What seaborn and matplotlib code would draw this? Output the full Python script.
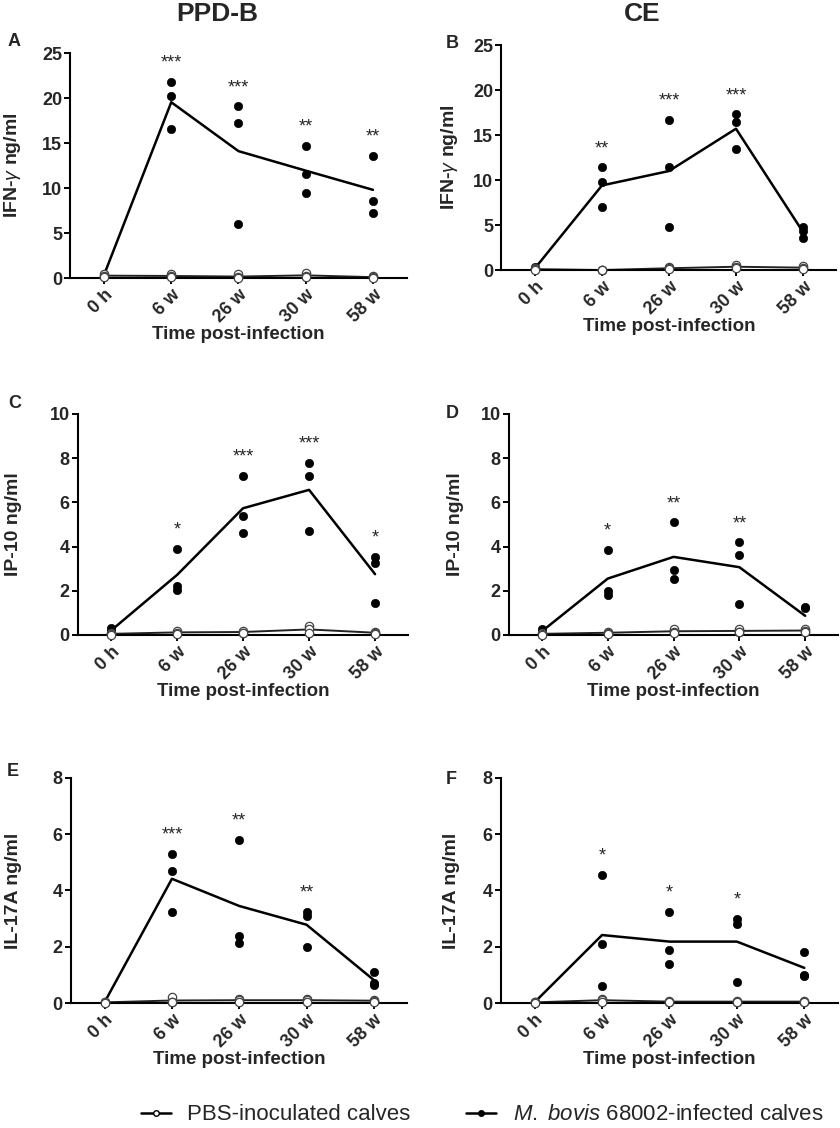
"""
cytokine responses to PPD-B and CE over time, infected vs PBS calves
"""

import numpy as np
import pandas as pd
import matplotlib
matplotlib.use('Agg')
import matplotlib.pyplot as plt
import seaborn as sns
from matplotlib.lines import Line2D

time_labels = ['0 h', '6 w', '26 w', '30 w', '58 w']

# three calves per time point, one row per time point
ifn_ppd_inf = [[0.5, 0.3, 0.2], [21.8, 20.2, 16.6], [19.1, 17.2, 6.0], [14.7, 11.6, 9.5], [13.6, 8.6, 7.2]]
ifn_ppd_pbs = [[0.5, 0.2, 0.1], [0.4, 0.2, 0.1], [0.4, 0.1, 0.0], [0.6, 0.2, 0.1], [0.2, 0.1, 0.0]]
ifn_ce_inf = [[0.3, 0.2, 0.1], [11.4, 9.8, 7.0], [16.7, 11.5, 4.8], [17.3, 16.4, 13.4], [4.8, 4.3, 3.6]]
ifn_ce_pbs = [[0.2, 0.1, 0.0], [0.0, 0.0, 0.0], [0.3, 0.2, 0.1], [0.6, 0.3, 0.2], [0.5, 0.2, 0.1]]

ip10_ppd_inf = [[0.3, 0.2, 0.1], [3.9, 2.2, 2.05], [7.2, 5.4, 4.6], [7.8, 7.2, 4.7], [3.55, 3.25, 1.45]]
ip10_ppd_pbs = [[0.1, 0.05, 0.0], [0.2, 0.1, 0.05], [0.2, 0.1, 0.1], [0.4, 0.25, 0.1], [0.15, 0.1, 0.05]]
ip10_ce_inf = [[0.25, 0.15, 0.1], [3.85, 2.0, 1.8], [5.1, 2.95, 2.55], [4.2, 3.6, 1.4], [1.25, 1.2, 0.15]]
ip10_ce_pbs = [[0.1, 0.05, 0.0], [0.15, 0.1, 0.05], [0.25, 0.15, 0.1], [0.25, 0.15, 0.15], [0.25, 0.2, 0.15]]

il17_ppd_inf = [[0.05, 0.03, 0.02], [5.3, 4.7, 3.25], [5.8, 2.4, 2.15], [3.25, 3.1, 2.0], [1.1, 0.7, 0.65]]
il17_ppd_pbs = [[0.05, 0.02, 0.0], [0.2, 0.05, 0.02], [0.15, 0.1, 0.05], [0.15, 0.1, 0.05], [0.12, 0.08, 0.05]]
il17_ce_inf = [[0.05, 0.03, 0.01], [4.55, 2.1, 0.6], [3.25, 1.9, 1.4], [3.0, 2.8, 0.75], [1.8, 1.0, 0.95]]
il17_ce_pbs = [[0.05, 0.02, 0.0], [0.15, 0.1, 0.05], [0.08, 0.05, 0.02], [0.08, 0.05, 0.02], [0.08, 0.05, 0.02]]

# significance marks per time point
stars_a = ['', '***', '***', '**', '**']
stars_b = ['', '**', '***', '***', '']
stars_c = ['', '*', '***', '***', '*']
stars_d = ['', '*', '**', '**', '']
stars_e = ['', '***', '**', '**', '']
stars_f = ['', '*', '*', '*', '']

FIG_W, FIG_H = 840, 1128


def to_long(inf, pbs):
    """turns the nested lists into a long dataframe"""
    rows = []
    for i in range(len(time_labels)):
        for v in inf[i]:
            rows.append((i, 'inf', v))
        for v in pbs[i]:
            rows.append((i, 'pbs', v))
    return pd.DataFrame(rows, columns=['t', 'group', 'val'])


def draw_panel(ax, inf, pbs, stars, ymax, ystep, ylabel, label_px):
    df = to_long(inf, pbs)
    d_inf = df[df['group'] == 'inf']
    d_pbs = df[df['group'] == 'pbs']

    # mean lines
    sns.lineplot(data=d_pbs, x='t', y='val', estimator='mean', errorbar=None,
                 color='#222222', lw=1.4, ax=ax, zorder=2)
    sns.lineplot(data=d_inf, x='t', y='val', estimator='mean', errorbar=None,
                 color='black', lw=1.8, ax=ax, zorder=2)

    # individual animals
    sns.scatterplot(data=d_pbs, x='t', y='val', color='white', edgecolor='#444444',
                    linewidth=0.9, s=36, ax=ax, zorder=4, clip_on=False)
    sns.scatterplot(data=d_inf, x='t', y='val', color='black', edgecolor='black',
                    s=36, ax=ax, zorder=3, clip_on=False)

    # stars above the highest point
    for i, s in enumerate(stars):
        if s:
            top = max(inf[i])
            ax.text(i, top + ymax * 0.045, s, ha='center', va='bottom', fontsize=13)

    ax.set_xlim(-0.5, 4.5)
    ax.set_ylim(0, ymax)
    ax.set_yticks(np.arange(0, ymax + 0.01, ystep))
    ax.set_xticks(range(len(time_labels)))
    ax.set_xticklabels(time_labels, rotation=45, ha='right', rotation_mode='anchor',
                       fontsize=13, fontweight='bold')
    for lab in ax.get_yticklabels():
        lab.set_fontweight('bold')
        lab.set_fontsize(13)
    ax.tick_params(axis='both', direction='out', length=4, width=1.4, color='black', pad=2)
    ax.set_ylabel(ylabel, fontsize=14, fontweight='bold')
    pos = ax.get_position()
    ax.yaxis.set_label_coords((label_px / FIG_W - pos.x0) / pos.width, 0.5)
    ax.set_xlabel('Time post-infection', fontsize=13.5, fontweight='bold', labelpad=0)
    sns.despine(ax=ax)
    for sp in ['left', 'bottom']:
        ax.spines[sp].set_linewidth(1.5)
        ax.spines[sp].set_color('black')


def main():
    sns.set_style('ticks')
    plt.rcParams['font.family'] = ['Liberation Sans', 'DejaVu Sans']
    plt.rcParams['mathtext.fontset'] = 'custom'
    plt.rcParams['mathtext.it'] = 'Liberation Sans:italic'
    plt.rcParams['mathtext.rm'] = 'Liberation Sans'

    fig = plt.figure(figsize=(FIG_W / 100, FIG_H / 100), dpi=100)

    ax_a = fig.add_axes([0.0838, 0.7535, 0.4002, 0.1995])
    ax_b = fig.add_axes([0.597, 0.7606, 0.3988, 0.1995])
    ax_c = fig.add_axes([0.0929, 0.4371, 0.3929, 0.1959])
    ax_d = fig.add_axes([0.606, 0.4371, 0.3917, 0.1959])
    ax_e = fig.add_axes([0.0845, 0.1108, 0.4006, 0.1995])
    ax_f = fig.add_axes([0.5964, 0.1108, 0.4012, 0.1995])

    ifn_lab = r'IFN-$\gamma$ ng/ml'
    draw_panel(ax_a, ifn_ppd_inf, ifn_ppd_pbs, stars_a, 25, 5, ifn_lab, 23)
    draw_panel(ax_b, ifn_ce_inf, ifn_ce_pbs, stars_b, 25, 5, ifn_lab, 460)
    draw_panel(ax_c, ip10_ppd_inf, ip10_ppd_pbs, stars_c, 10, 2, 'IP-10 ng/ml', 22)
    draw_panel(ax_d, ip10_ce_inf, ip10_ce_pbs, stars_d, 10, 2, 'IP-10 ng/ml', 464)
    draw_panel(ax_e, il17_ppd_inf, il17_ppd_pbs, stars_e, 8, 2, 'IL-17A ng/ml', 22)
    draw_panel(ax_f, il17_ce_inf, il17_ce_pbs, stars_f, 8, 2, 'IL-17A ng/ml', 460)

    # column titles
    fig.text(217 / FIG_W, 1 - 14 / FIG_H, 'PPD-B', ha='center', va='center',
             fontsize=19, fontweight='bold')
    fig.text(642 / FIG_W, 1 - 14 / FIG_H, 'CE', ha='center', va='center',
             fontsize=19, fontweight='bold')

    # panel letters
    letters = [('A', 8, 42), ('B', 446, 43), ('C', 8, 403),
               ('D', 446, 413), ('E', 7, 772), ('F', 446, 779)]
    for let, px, py in letters:
        fig.text(px / FIG_W, 1 - py / FIG_H, let, ha='left', va='center',
                 fontsize=13, fontweight='bold')

    handles = [
        Line2D([], [], color='black', lw=1.8, marker='o', markersize=4,
               markerfacecolor='white', markeredgecolor='black'),
        Line2D([], [], color='black', lw=1.8, marker='o', markersize=4,
               markerfacecolor='black', markeredgecolor='black'),
    ]
    labels = ['PBS-inoculated calves', r'$\it{M.\ bovis}$ 68002-infected calves']
    fig.legend(handles, labels, loc='center', bbox_to_anchor=(482 / FIG_W, 1 - 1115 / FIG_H),
               ncol=2, frameon=False, fontsize=16, handlelength=1.35,
               columnspacing=2.5, handletextpad=0.75, borderpad=0, borderaxespad=0)

    fig.savefig('out.png', dpi=100, facecolor='white')


if __name__ == "__main__":
    main()
